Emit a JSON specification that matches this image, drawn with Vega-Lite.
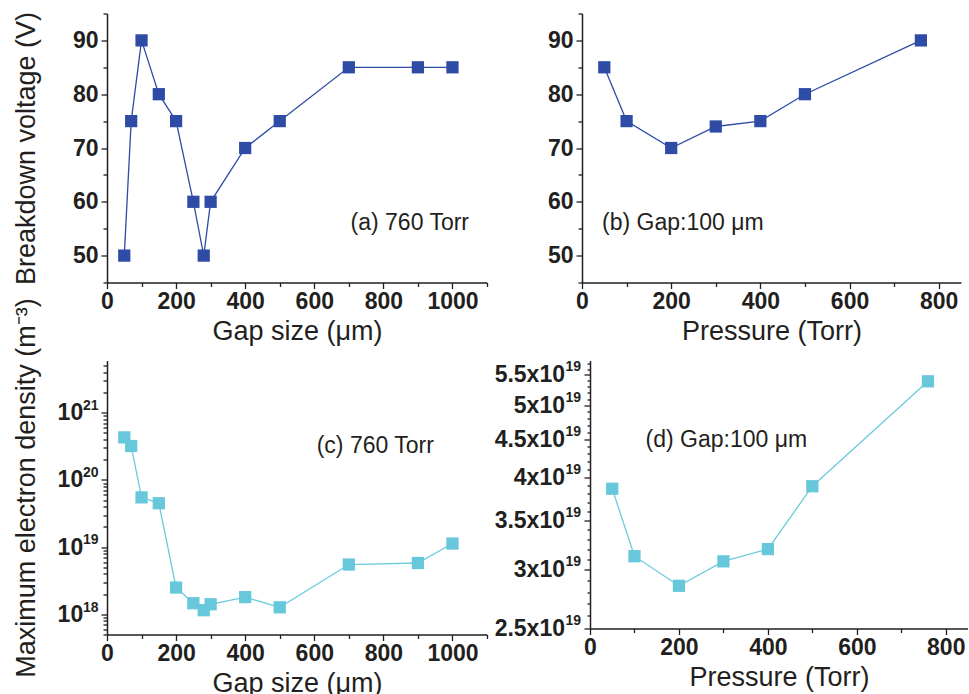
{
  "$schema": "https://vega.github.io/schema/vega-lite/v6.json",
  "padding": {"top": 2.5, "left": 11, "right": 0, "bottom": 0},
  "background": "white",
  "config": {
    "view": {"stroke": null},
    "font": "Liberation Sans",
    "axis": {
      "grid": false,
      "domainColor": "#231f20",
      "domainWidth": 1.5,
      "tickColor": "#231f20",
      "tickWidth": 1.3,
      "labelFont": "Liberation Sans",
      "labelFontWeight": "bold",
      "labelFontSize": 23,
      "labelColor": "#231f20",
      "titleFont": "Liberation Sans",
      "titleFontWeight": "normal",
      "titleFontSize": 27,
      "titleColor": "#231f20",
      "labelOverlap": false,
      "labelBound": false,
      "labelFlush": false
    },
    "axisX": {"labelPadding": 2, "titleY": 36},
    "axisY": {"labelPadding": 3}
  },
  "datasets": {
    "a": [
      {"g": 50, "v": 50}, {"g": 70, "v": 75}, {"g": 100, "v": 90}, {"g": 150, "v": 80},
      {"g": 200, "v": 75}, {"g": 250, "v": 60}, {"g": 280, "v": 50}, {"g": 300, "v": 60},
      {"g": 400, "v": 70}, {"g": 500, "v": 75}, {"g": 700, "v": 85}, {"g": 900, "v": 85},
      {"g": 1000, "v": 85}
    ],
    "b": [
      {"p": 50, "v": 85}, {"p": 100, "v": 75}, {"p": 200, "v": 70}, {"p": 300, "v": 74},
      {"p": 400, "v": 75}, {"p": 500, "v": 80}, {"p": 760, "v": 90}
    ],
    "c": [
      {"g": 50, "n": 4.3e20}, {"g": 70, "n": 3.2e20}, {"g": 100, "n": 5.5e19}, {"g": 150, "n": 4.5e19},
      {"g": 200, "n": 2.5e18}, {"g": 250, "n": 1.46e18}, {"g": 280, "n": 1.15e18}, {"g": 300, "n": 1.41e18},
      {"g": 400, "n": 1.8e18}, {"g": 500, "n": 1.27e18}, {"g": 700, "n": 5.5e18}, {"g": 900, "n": 5.8e18},
      {"g": 1000, "n": 1.13e19}
    ],
    "d": [
      {"p": 50, "n": 3.86e19}, {"p": 100, "n": 3.13e19}, {"p": 200, "n": 2.855e19}, {"p": 300, "n": 3.08e19},
      {"p": 400, "n": 3.2e19}, {"p": 500, "n": 3.89e19}, {"p": 760, "n": 5.39e19}
    ]
  },
  "vconcat": [
    {
      "spacing": 59,
      "hconcat": [
        {
          "width": 380,
          "height": 269,
          "data": {"name": "a"},
          "encoding": {
            "x": {"field": "g", "type": "quantitative", "title": "Gap size (μm)",
              "scale": {"domain": [0, 1100], "nice": false, "zero": false},
              "axis": {"values": [0, 100, 200, 300, 400, 500, 600, 700, 800, 900, 1000, 1100],
                "format": "d",
                "labelExpr": "datum.value % 200 == 0 && datum.value <= 1000 ? datum.label : ''",
                "tickSize": {"condition": {"test": "datum.value % 200 == 0", "value": 6}, "value": 4}}},
            "y": {"field": "v", "type": "quantitative", "title": "Breakdown voltage (V)",
              "scale": {"domain": [45, 95], "nice": false, "zero": false},
              "axis": {"values": [45, 50, 55, 60, 65, 70, 75, 80, 85, 90, 95],
                "labelExpr": "datum.value % 10 == 0 ? datum.label : ''",
                "titleX": -67,
                "tickSize": {"condition": {"test": "datum.value % 10 == 0", "value": 6}, "value": 4}}}
          },
          "layer": [
            {"mark": {"type": "line", "color": "#2e4ca5", "strokeWidth": 1.3}},
            {"mark": {"type": "point", "shape": "square", "filled": true, "size": 150, "color": "#2e4ca5", "opacity": 1}},
            {"data": {"values": [{"g": 705, "v": 56, "t": "(a) 760 Torr"}]},
              "mark": {"type": "text", "align": "left", "baseline": "middle", "fontSize": 23, "color": "#231f20", "font": "Liberation Sans"},
              "encoding": {"text": {"field": "t"}}}
          ]
        },
        {
          "width": 379,
          "height": 269,
          "data": {"name": "b"},
          "encoding": {
            "x": {"field": "p", "type": "quantitative", "title": "Pressure (Torr)",
              "scale": {"domain": [0, 850], "nice": false, "zero": false},
              "axis": {"values": [0, 100, 200, 300, 400, 500, 600, 700, 800],
                "format": "d",
                "labelExpr": "datum.value % 200 == 0 ? datum.label : ''",
                "tickSize": {"condition": {"test": "datum.value % 200 == 0", "value": 6}, "value": 4}}},
            "y": {"field": "v", "type": "quantitative", "title": null,
              "scale": {"domain": [45, 95], "nice": false, "zero": false},
              "axis": {"values": [45, 50, 55, 60, 65, 70, 75, 80, 85, 90, 95],
                "labelExpr": "datum.value % 10 == 0 ? datum.label : ''",
                "tickSize": {"condition": {"test": "datum.value % 10 == 0", "value": 6}, "value": 4}}}
          },
          "layer": [
            {"mark": {"type": "line", "color": "#2e4ca5", "strokeWidth": 1.3}},
            {"mark": {"type": "point", "shape": "square", "filled": true, "size": 150, "color": "#2e4ca5", "opacity": 1}},
            {"data": {"values": [{"p": 45, "v": 56, "t": "(b)  Gap:100 μm"}]},
              "mark": {"type": "text", "align": "left", "baseline": "middle", "fontSize": 23, "color": "#231f20", "font": "Liberation Sans"},
              "encoding": {"text": {"field": "t"}}}
          ]
        }
      ]
    },
    {
      "spacing": 6,
      "hconcat": [
        {
          "width": 380,
          "height": 274,
          "data": {"name": "c"},
          "encoding": {
            "x": {"field": "g", "type": "quantitative", "title": "Gap size (μm)",
              "scale": {"domain": [0, 1100], "nice": false, "zero": false},
              "axis": {"values": [0, 100, 200, 300, 400, 500, 600, 700, 800, 900, 1000, 1100],
                "format": "d",
                "labelExpr": "datum.value % 200 == 0 && datum.value <= 1000 ? datum.label : ''",
                "tickSize": {"condition": {"test": "datum.value % 200 == 0", "value": 6}, "value": 4}}},
            "y": {"field": "n", "type": "quantitative", "title": "Maximum electron density (m⁻³)",
              "scale": {"type": "log", "domain": [5e17, 6e21], "nice": false},
              "axis": {"values": [5e17, 6e17, 7e17, 8e17, 9e17, 1e18, 2e18, 3e18, 4e18, 5e18, 6e18, 7e18, 8e18, 9e18, 1e19, 2e19, 3e19, 4e19, 5e19, 6e19, 7e19, 8e19, 9e19, 1e20, 2e20, 3e20, 4e20, 5e20, 6e20, 7e20, 8e20, 9e20, 1e21, 2e21, 3e21, 4e21, 5e21],
                "labelExpr": "abs(log(datum.value)/LN10 - round(log(datum.value)/LN10)) < 0.001 ? '10' : ''",
                "labelPadding": 18.3,
                "titleX": -67,
                "titleY": 127,
                "tickSize": {"condition": {"test": "abs(log(datum.value)/LN10 - round(log(datum.value)/LN10)) < 0.001", "value": 6}, "value": 4}}}
          },
          "layer": [
            {"mark": {"type": "line", "color": "#6ccbdd", "strokeWidth": 1.3}},
            {"mark": {"type": "point", "shape": "square", "filled": true, "size": 150, "color": "#66c8da", "opacity": 1}},
            {"data": {"values": [{"g": 607, "n": 3.2e20, "t": "(c)  760 Torr"}]},
              "mark": {"type": "text", "align": "left", "baseline": "middle", "fontSize": 23, "color": "#231f20", "font": "Liberation Sans"},
              "encoding": {"text": {"field": "t"}}},
            {"data": {"values": [{"g": 0, "n": 1e18, "e": "18"}, {"g": 0, "n": 1e19, "e": "19"}, {"g": 0, "n": 1e20, "e": "20"}, {"g": 0, "n": 1e21, "e": "21"}]},
              "mark": {"type": "text", "align": "left", "baseline": "middle", "dx": -24, "dy": -6.7, "fontSize": 14, "fontWeight": "bold", "color": "#231f20", "font": "Liberation Sans"},
              "encoding": {"text": {"field": "e"}}}
          ]
        },
        {
          "width": 378,
          "height": 268,
          "data": {"name": "d"},
          "encoding": {
            "x": {"field": "p", "type": "quantitative", "title": "Pressure (Torr)",
              "scale": {"domain": [0, 850], "nice": false, "zero": false},
              "axis": {"values": [0, 100, 200, 300, 400, 500, 600, 700, 800],
                "format": "d",
                "labelExpr": "datum.value % 200 == 0 ? datum.label : ''",
                "tickSize": {"condition": {"test": "datum.value % 200 == 0", "value": 6}, "value": 4}}},
            "y": {"field": "n", "type": "quantitative", "title": null,
              "scale": {"type": "log", "domain": [2.5e19, 5.75e19], "nice": false},
              "axis": {"values": [2.5e19, 2.6e19, 2.7e19, 2.8e19, 2.9e19, 3e19, 3.1e19, 3.2e19, 3.3e19, 3.4e19, 3.5e19, 3.6e19, 3.7e19, 3.8e19, 3.9e19, 4e19, 4.1e19, 4.2e19, 4.3e19, 4.4e19, 4.5e19, 4.6e19, 4.7e19, 4.8e19, 4.9e19, 5e19, 5.1e19, 5.2e19, 5.3e19, 5.4e19, 5.5e19, 5.6e19, 5.7e19],
                "labelExpr": "abs(datum.value/5e18 - round(datum.value/5e18)) < 0.001 ? format(datum.value/1e19, '~g') + 'x10' : ''",
                "labelPadding": 19.5,
                "tickSize": {"condition": {"test": "abs(datum.value/5e18 - round(datum.value/5e18)) < 0.001", "value": 6}, "value": 3}}}
          },
          "layer": [
            {"mark": {"type": "line", "color": "#6ccbdd", "strokeWidth": 1.3}},
            {"mark": {"type": "point", "shape": "square", "filled": true, "size": 150, "color": "#66c8da", "opacity": 1}},
            {"data": {"values": [{"p": 125, "n": 4.49e19, "t": "(d) Gap:100 μm"}]},
              "mark": {"type": "text", "align": "left", "baseline": "middle", "fontSize": 23, "color": "#231f20", "font": "Liberation Sans"},
              "encoding": {"text": {"field": "t"}}},
            {"data": {"values": [{"p": 0, "n": 2.5e19, "e": "19"}, {"p": 0, "n": 3e19, "e": "19"}, {"p": 0, "n": 3.5e19, "e": "19"}, {"p": 0, "n": 4e19, "e": "19"}, {"p": 0, "n": 4.5e19, "e": "19"}, {"p": 0, "n": 5e19, "e": "19"}, {"p": 0, "n": 5.5e19, "e": "19"}]},
              "mark": {"type": "text", "align": "left", "baseline": "middle", "dx": -24.5, "dy": -7.5, "fontSize": 14, "fontWeight": "bold", "color": "#231f20", "font": "Liberation Sans"},
              "encoding": {"text": {"field": "e"}}}
          ]
        }
      ]
    }
  ],
  "spacing": -47
}
